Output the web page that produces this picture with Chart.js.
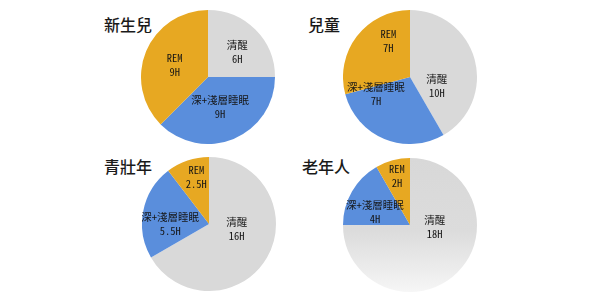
<!DOCTYPE html>
<html>
<head>
<meta charset="utf-8">
<script src="https://cdn.jsdelivr.net/npm/chart.js@4/dist/chart.umd.min.js"></script>
<style>
  html, body { margin: 0; padding: 0; background: #ffffff; }
  #stage { position: relative; width: 600px; height: 300px; overflow: hidden; background: #fff; }
  .ttl { position: absolute; font-family: "Noto Sans CJK TC", "Noto Sans", sans-serif; font-size: 16px; line-height: 16px; font-weight: 500; color: #1a1a1a; white-space: nowrap; }
  canvas { position: absolute; }
</style>
</head>
<body>
<div id="stage">
  <div class="ttl" style="left:104px;top:16px">新生兒</div>
  <div class="ttl" style="left:308px;top:16px">兒童</div>
  <div class="ttl" style="left:104px;top:158px">青壯年</div>
  <div class="ttl" style="left:302px;top:158px">老年人</div>
  <canvas id="c0" width="134" height="134" style="left:141px;top:10px"></canvas>
  <canvas id="c1" width="134" height="134" style="left:343px;top:10px"></canvas>
  <canvas id="c2" width="134" height="134" style="left:142px;top:157px"></canvas>
  <canvas id="c3" width="134" height="134" style="left:343px;top:158px"></canvas>
</div>
<script>
// Hours per day spent in each state, by age group
const stateNames = ['清醒', '深+淺層睡眠', 'REM'];
const newbornHours = [6, 9, 9];
const childHours = [10, 7, 7];
const adultHours = [16, 5.5, 2.5];
const elderHours = [18, 4, 2];
const hourLabels = {
  newborn: ['6H', '9H', '9H'],
  child: ['10H', '7H', '7H'],
  adult: ['16H', '5.5H', '2.5H'],
  elder: ['18H', '4H', '2H']
};

const GRAY = '#d9d9d9', BLUE = '#5a8edc', ORANGE = '#e7a822';

// Label spot inside each slice: [angle from 12 o'clock in degrees, share of the radius]
const spots = {
  newborn: [[50, 0.57], [158, 0.48], [290, 0.53]],
  child:   [[108, 0.42], [243, 0.57], [329, 0.63]],
  adult:   [[100, 0.42], [270, 0.58], [345, 0.73]],
  elder:   [[95, 0.37], [291, 0.56], [345, 0.75]]
};

// Two-line slice labels (state name over hours); half-width Latin, full-width CJK
const sliceLabels = {
  id: 'sliceLabels',
  afterDatasetsDraw(chart, args, opts) {
    const ctx = chart.ctx;
    const meta = chart.getDatasetMeta(0);
    meta.data.forEach((arc, i) => {
      const [deg, frac] = opts.spots[i];
      const a = (deg - 90) * Math.PI / 180;
      const r = arc.outerRadius * frac;
      const x = arc.x + Math.cos(a) * r;
      const y = arc.y + Math.sin(a) * r;
      const lines = [stateNames[i], opts.hours[i]];
      ctx.save();
      ctx.translate(x, y);
      ctx.fillStyle = '#151515';
      ctx.textAlign = 'center';
      ctx.textBaseline = 'middle';
      ctx.font = '500 10.5px "Noto Sans Mono CJK TC", "Noto Sans CJK TC", monospace';
      ctx.fillText(lines[0], 0, -7);
      ctx.fillText(lines[1], 0, 7);
      ctx.restore();
    });
  }
};

// Awake slice of the last pie fades toward white at the bottom
function grayFor(chart, fading) {
  const area = chart.chartArea;
  if (!fading || !area) return GRAY;
  const g = chart.ctx.createLinearGradient(0, area.top, 0, area.bottom);
  g.addColorStop(0, '#d8d8d8');
  g.addColorStop(0.55, '#dcdcdc');
  g.addColorStop(1, '#f6f6f6');
  return g;
}

function makePie(id, values, key, fading) {
  new Chart(document.getElementById(id), {
    type: 'pie',
    data: {
      labels: stateNames,
      datasets: [{
        data: values,
        backgroundColor: (c) => [grayFor(c.chart, fading), BLUE, ORANGE][c.dataIndex],
        borderWidth: 0,
        hoverOffset: 0
      }]
    },
    options: {
      responsive: false,
      maintainAspectRatio: false,
      animation: false,
      events: [],
      layout: { padding: 0 },
      plugins: {
        legend: { display: false },
        tooltip: { enabled: false },
        sliceLabels: { spots: spots[key], hours: hourLabels[key] }
      }
    },
    plugins: [sliceLabels]
  });
}

makePie('c0', newbornHours, 'newborn', false);
makePie('c1', childHours, 'child', false);
makePie('c2', adultHours, 'adult', false);
makePie('c3', elderHours, 'elder', true);
</script>
</body>
</html>
